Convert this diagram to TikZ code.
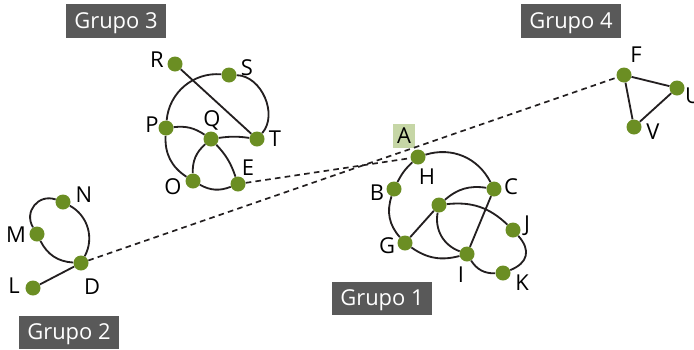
\documentclass[tikz,border=0pt]{standalone}
\usepackage{fontspec}
\setmainfont{Open Sans}
\usepackage{tikz}
\definecolor{grafoVerde}{HTML}{6B8E23}
\definecolor{grafoVerdeClaro}{HTML}{C6D6A6}
\definecolor{grafoGris}{HTML}{595959}
\definecolor{grafoLinea}{HTML}{231F20}

\begin{document}
\begin{tikzpicture}[x=0.025cm, y=-0.025cm, font=\fontsize{15.6}{18}\selectfont,
  vtx/.style={circle, fill=grafoVerde, minimum size=0.375cm, inner sep=0pt},
  lbl/.style={inner sep=0pt, text depth=0pt},
  grupo/.style={fill=grafoGris, text=white, minimum width=2.475cm,
                minimum height=0.825cm, inner sep=0pt, text depth=0pt},
  arista/.style={draw=grafoLinea, line width=1.3pt},
  enlace/.style={draw=grafoLinea, line width=1.2pt, dash pattern=on 4pt off 3pt}]

\useasboundingbox (0,0) rectangle (694,349);

% Grupo 3
\node[vtx] (R) at (175,64) {};
\node[vtx] (S) at (229,75) {};
\node[vtx] (P) at (166,128) {};
\node[vtx] (Q) at (211,139) {};
\node[vtx] (T) at (257,139) {};
\node[vtx] (O) at (193,181) {};
\node[vtx] (E) at (238,184) {};
\node[lbl] (R-t) at (157,60) {R};
\node[lbl] (S-t) at (247,68) {S};
\node[lbl] (P-t) at (152,125) {P};
\node[lbl] (Q-t) at (212,119) {Q};
\node[lbl] (T-t) at (275,139) {T};
\node[lbl] (O-t) at (173,187) {O};
\node[lbl] (E-t) at (248,168) {E};

\draw[arista] (R) -- (T);
\draw[arista] (P) to[bend left=45] (S);
\draw[arista] (S) to[bend left=65] (T);
\draw[arista] (P) to[bend left=20] (Q);
\draw[arista] (Q) to[bend left=8] (T);
\draw[arista] (P) to[bend right=30] (O);
\draw[arista] (O) to[bend left=25] (Q);
\draw[arista] (Q) to[bend left=12] (E);
\draw[arista] (O) to[bend right=25] (E);

% Grupo 1
\node[vtx] (H) at (418,157) {};
\node[vtx] (B) at (394,189) {};
\node[vtx] (C) at (494,189) {};
\node[vtx] (cen) at (439,205) {};
\node[vtx] (J) at (513,230) {};
\node[vtx] (G) at (405,243) {};
\node[vtx] (I) at (467,254) {};
\node[vtx] (K) at (503,273) {};
\node[lbl, fill=grafoVerdeClaro, minimum width=0.55cm, minimum height=0.6cm]
  (A-t) at (404,135.5) {A};
\node[lbl] (H-t) at (427,177) {H};
\node[lbl] (B-t) at (377,193) {B};
\node[lbl] (C-t) at (511,187) {C};
\node[lbl] (J-t) at (527,224) {J};
\node[lbl] (G-t) at (387,246) {G};
\node[lbl] (I-t) at (461,275) {I};
\node[lbl] (K-t) at (522,283) {K};

\draw[arista] (H) to[bend left=40] (C);
\draw[arista] (H) to[bend right=10] (B);
\draw[arista] (B) to[bend right=30] (G);
\draw[arista] (G) -- (cen);
\draw[arista] (G) to[bend right=25] (I);
\draw[arista] (cen) to[bend left=25] (C);
\draw[arista] (cen) to[bend left=25] (J);
\draw[arista] (cen) to[bend right=40] (I);
\draw[arista] (C) -- (I);
\draw[arista] (J) to[bend left=55, looseness=1.4] (K);
\draw[arista] (I) to[bend right=30] (K);

% Grupo 2
\node[vtx] (N) at (63,202) {};
\node[vtx] (M) at (37,234) {};
\node[vtx] (D) at (81,263) {};
\node[vtx] (L) at (33,288) {};
\node[lbl] (N-t) at (84,195) {N};
\node[lbl] (M-t) at (16,235) {M};
\node[lbl] (D-t) at (92,287) {D};
\node[lbl] (L-t) at (14,286) {L};

\draw[arista] (N) to[bend right=70, looseness=1.3] (M);
\draw[arista] (N) to[bend left=45] (D);
\draw[arista] (M) to[bend right=30] (D);
\draw[arista] (L) -- (D);

% Grupo 4
\node[vtx] (F) at (624,75) {};
\node[vtx] (U) at (677,88) {};
\node[vtx] (V) at (634,127) {};
\node[lbl] (F-t) at (636,55) {F};
\node[lbl] (U-t) at (693,96) {U};
\node[lbl] (V-t) at (653,132) {V};

\draw[arista] (F) -- (U);
\draw[arista] (F) -- (V);
\draw[arista] (U) -- (V);

% enlaces entre grupos
\draw[enlace] (E) -- (H);
\draw[enlace] (D) -- (F);

\node[grupo] (g1) at (382,298) {Grupo 1};
\node[grupo] (g2) at (69,332) {Grupo 2};
\node[grupo] (g3) at (116,21) {Grupo 3};
\node[grupo] (g4) at (571,21) {Grupo 4};
\end{tikzpicture}
\end{document}
